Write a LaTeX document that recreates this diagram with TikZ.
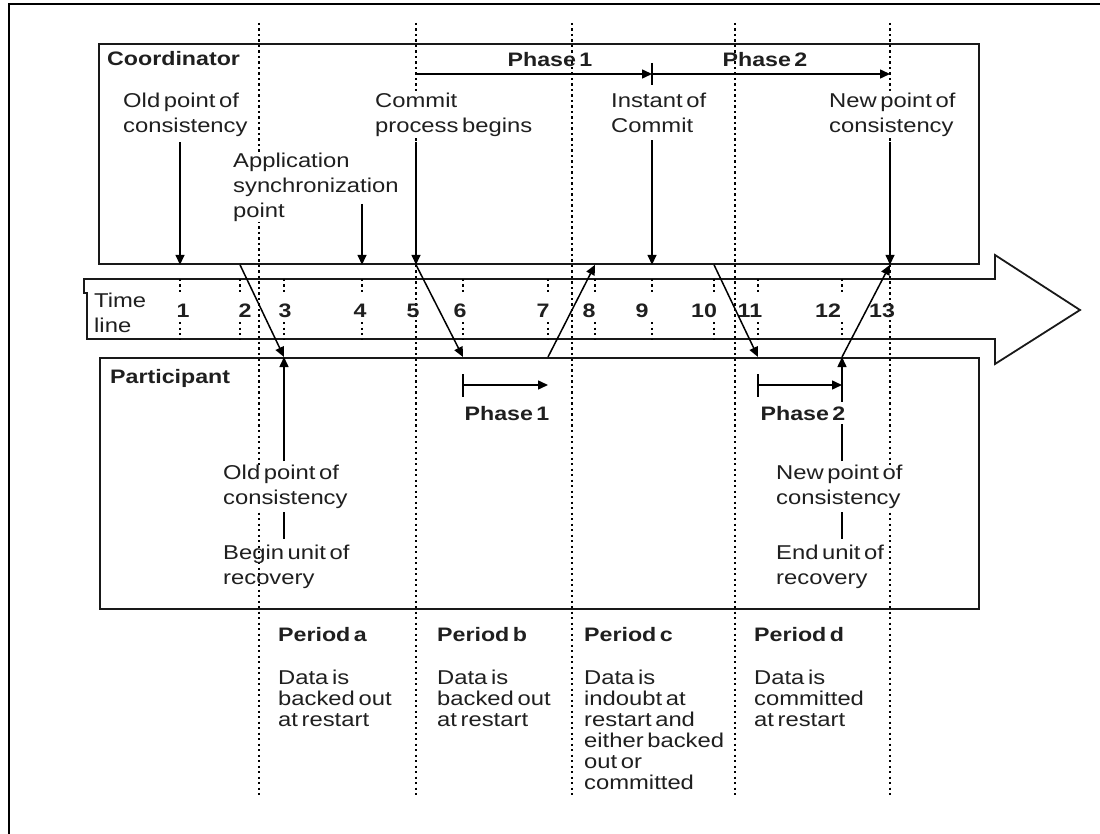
\documentclass[tikz,border=0pt]{standalone}
\usepackage{fontspec}
\setmainfont{Liberation Sans}[FakeStretch=1.19,WordSpace=0.55]
\usetikzlibrary{arrows.meta}

\begin{document}
\begin{tikzpicture}[x=1pt,y=-1pt,
    every node/.style={inner sep=0pt,text=black!88},
    box/.style={draw=black!90,line width=1.8pt},
    sepline/.style={line width=1.5pt,dash pattern=on 2.2pt off 3.3pt},
    msg/.style={line width=1.5pt,-{Triangle[length=10pt,width=9pt]}},
    bar/.style={line width=1.5pt},
    txt/.style={anchor=north west,align=left,font=\fontsize{20}{25}\selectfont},
    dat/.style={txt,font=\fontsize{20}{21}\selectfont},
    ttl/.style={font=\fontsize{19.5}{25}\selectfont\bfseries}]

\useasboundingbox (0,0) rectangle (1100,834);
\draw[line width=1.5pt] (9,834) -- (9,4) -- (1100,4);

\foreach \x in {259,416,572,735,890}
{
    \draw[sepline] (\x,23) -- (\x,795);
};

\node[box,anchor=north west,minimum width=880pt,minimum height=220pt] (coord) at (98,43) {};
\node[box,anchor=north west,minimum width=879pt,minimum height=251pt] (part) at (99,357) {};

% time line with its ticks
\draw[box,line join=miter] (84,279) -- (995,279) -- (995,255) -- (1080,310) -- (995,364)
    -- (995,339) -- (87,339) -- (87,293) -- (84,293) -- cycle;
\node[txt] (tline) at (94,293) {Time\\line};

\foreach \n/\x/\nx in 
{1/180/183, 2/240/245, 3/284/285, 4/362/360, 5/416/413, 6/463/460, 7/548/543,
    8/595/589, 9/652/642, 10/714/704, 11/758/750, 12/842/828, 13/890/882}
{
    \coordinate (t\n) at (\x,309);
    \node[ttl,anchor=base] (n\n) at (\nx,317) {\n};
};
\foreach \n in {1,2,3,4,6,7,8,9,10,11,12}
{
    \draw[sepline] (t\n) ++(0,-30) -- ++(0,13);
    \draw[sepline] (t\n) ++(0,13) -- ++(0,17);
};

% coordinator
\node[ttl,anchor=north west] (cTitle) at (107,51) {Coordinator};
\node[txt,fill=white] (cOld) at (123,93) {Old point of\\consistency};
\node[txt,fill=white] (cSync) at (233,153) {Application\\synchronization\\point};
\node[txt,fill=white] (cCommit) at (375,93) {Commit\\process begins};
\node[txt,fill=white] (cInstant) at (611,93) {Instant of\\Commit};
\node[txt,fill=white] (cNew) at (829,93) {New point of\\consistency};

\draw[msg] (t5 |- 0,74) -- (t9 |- 0,74);
\draw[msg] (t9 |- 0,74) -- (t13 |- 0,74);
\draw[bar] (t9 |- 0,63) -- (t9 |- 0,85);
\node[ttl,anchor=base] (cPhA) at (550,67) {Phase 1};
\node[ttl,anchor=base] (cPhB) at (765,67) {Phase 2};

\draw[msg,shorten <=5pt] (cOld.south -| t1) -- (t1 |- coord.south);
\draw[msg] (t4 |- 0,204) -- (t4 |- coord.south);
\draw[msg,shorten <=5pt] (cCommit.south -| t5) -- (t5 |- coord.south);
\draw[msg,shorten <=7pt] (cInstant.south -| t9) -- (t9 |- coord.south);
\draw[msg,shorten <=5pt] (cNew.south -| t13) -- (t13 |- coord.south);

% flows between the two
\draw[msg] (t2 |- coord.south) -- (t3 |- part.north);
\draw[msg] (t5 |- coord.south) -- (t6 |- part.north);
\draw[msg] (t7 |- part.north) -- (t8 |- coord.south);
\draw[msg] (t10 |- coord.south) -- (t11 |- part.north);
\draw[msg] (t12 |- part.north) -- (t13 |- coord.south);

% participant
\node[ttl,anchor=north west] (pTitle) at (110,369) {Participant};
\node[txt,fill=white] (pOld) at (223,465) {Old point of\\consistency};
\node[txt] (pBegin) at (223,545) {Begin unit of\\recovery};
\node[txt,fill=white] (pNew) at (776,465) {New point of\\consistency};
\node[txt,fill=white] (pEnd) at (776,545) {End unit of\\recovery};

\draw[bar] (t6 |- 0,374) -- (t6 |- 0,397);
\draw[msg] (t6 |- 0,385) -- (t7 |- 0,385);
\draw[bar] (t11 |- 0,374) -- (t11 |- 0,397);
\draw[msg] (t11 |- 0,385) -- (t12 |- 0,385);

\draw[msg,shorten <=4pt] (pOld.north -| t3) -- (t3 |- part.north);
\draw[bar,shorten <=3pt,shorten >=6pt] (pOld.south -| t3) -- (pBegin.north -| t3);
\draw[msg,shorten <=4pt] (pNew.north -| t12) -- (t12 |- part.north);
\draw[bar,shorten <=3pt,shorten >=6pt] (pNew.south -| t12) -- (pEnd.north -| t12);

\node[ttl,anchor=base] (pPhA) at (507,420) {Phase 1};
\node[ttl,anchor=base,fill=white,inner ysep=4pt] (pPhB) at (803,420) {Phase 2};

% periods
\foreach \p/\x in {a/278, b/437, c/584, d/754}
{
    \node[ttl,anchor=base west] (per\p) at (\x,641) {Period \p};
};
\node[dat] (data) at (pera.base west |- 0,670) {Data is\\backed out\\at restart};
\node[dat] (datb) at (perb.base west |- 0,670) {Data is\\backed out\\at restart};
\node[dat] (datc) at (perc.base west |- 0,670) {Data is\\indoubt at\\restart and\\either backed\\out or\\committed};
\node[dat] (datd) at (perd.base west |- 0,670) {Data is\\committed\\at restart};

\end{tikzpicture}
\end{document}
